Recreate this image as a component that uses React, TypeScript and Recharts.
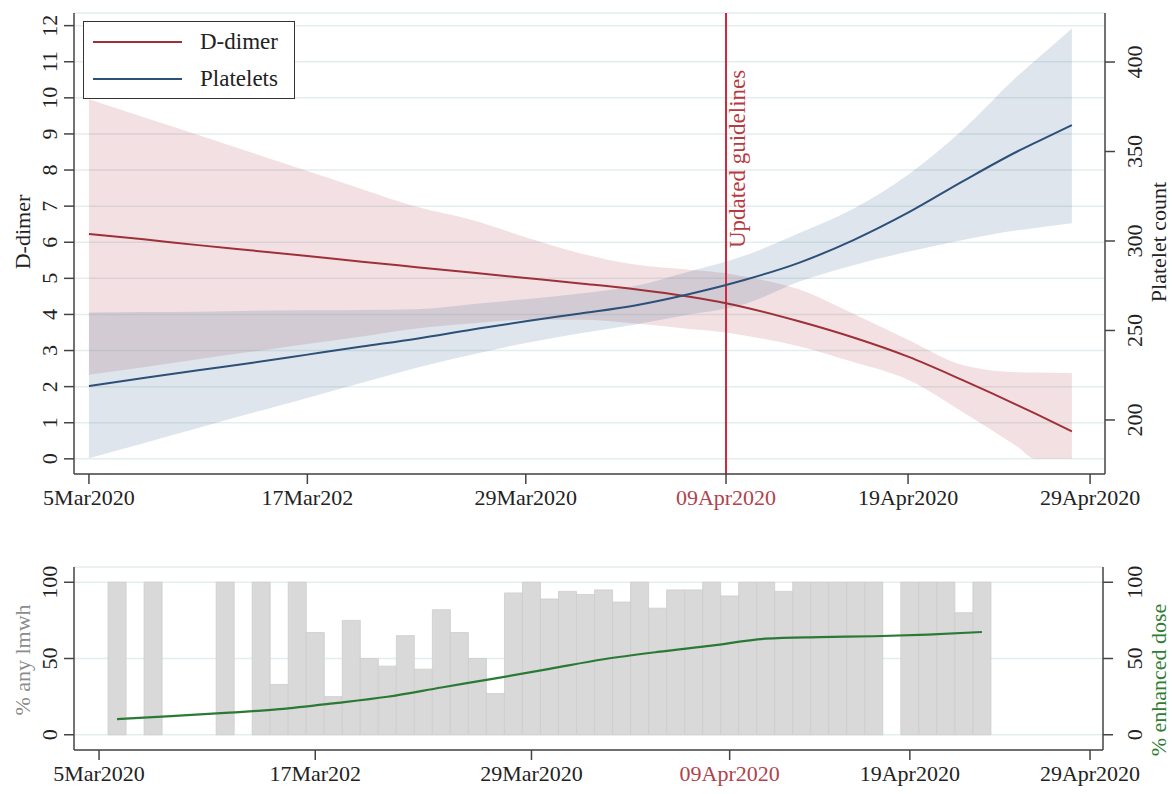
import React from 'react';
import { ComposedChart, Line, Area, Bar, XAxis, YAxis, CartesianGrid, ReferenceLine, Legend } from 'recharts';

const SERIF = '"Liberation Serif", "DejaVu Serif", serif';

// x is days since 5 March 2020
const dateTicks = [0, 12, 24, 35, 45, 55];
const dateLabels = ['5Mar2020', '17Mar202', '29Mar2020', '09Apr2020', '19Apr2020', '29Apr2020'];
const guidelineDay = 35;

// upper panel: fitted D-dimer / platelet trends with 95% bands
const fitDays = [0, 3, 6, 9, 12, 15, 18, 21, 24, 27, 30, 33, 35, 36, 39, 42, 45, 48, 51, 52, 54];
const dDimer = [6.23, 6.08, 5.92, 5.77, 5.62, 5.46, 5.31, 5.16, 5.01, 4.86, 4.7, 4.49, 4.31, 4.2, 3.81, 3.36, 2.83, 2.18, 1.49, 1.25, 0.76];
const dDimerLo = [2.33, 2.54, 2.76, 2.97, 3.18, 3.39, 3.61, 3.75, 3.85, 3.85, 3.75, 3.6, 3.5, 3.42, 3.12, 2.68, 2.19, 1.3, 0.34, 0, 0];
const dDimerHi = [9.96, 9.46, 8.97, 8.47, 7.97, 7.47, 6.98, 6.62, 6.14, 5.69, 5.38, 5.24, 5.14, 5.05, 4.7, 4.02, 3.3, 2.6, 2.4, 2.39, 2.37];
const platelets = [219, 223.4, 227.8, 232, 236.5, 241, 245.4, 250.4, 255.2, 259.5, 264, 270.4, 275.4, 278.2, 287.8, 300.5, 315.8, 333.3, 350, 355, 364.8];
const plateletsLo = [178.6, 187, 195.5, 204, 212.3, 220.8, 229.2, 236.5, 243, 248.4, 253.4, 258.9, 262.3, 264.7, 277.2, 286.5, 294, 300.6, 306, 307.3, 309.9];
const plateletsHi = [260, 260.3, 260.5, 261, 261.3, 261.5, 261.9, 264.7, 267.5, 270.6, 274.8, 283, 288.5, 291.8, 304.3, 318, 337, 362, 392, 401, 418.8];

const dDimerTicks = [0, 1, 2, 3, 4, 5, 6, 7, 8, 9, 10, 11, 12];
const plateletTicks = [200, 250, 300, 350, 400];

const legendNames = ['D-dimer', 'Platelets'];
const legendColors = ['#9e3039', '#2c5078'];

// lower panel: daily % on any LMWH (bars) and % on enhanced dose (line)
const lmwhDays = [1, 3, 7, 9, 10, 11, 12, 13, 14, 15, 16, 17, 18, 19, 20, 21, 22, 23, 24, 25, 26, 27, 28, 29, 30, 31, 32, 33, 34, 35, 36, 37, 38, 39, 40, 41, 42, 43, 45, 46, 47, 48, 49];
const lmwhPct = [100, 100, 100, 100, 33, 100, 67, 25, 75, 50, 45, 65, 43, 82, 67, 50, 27, 93, 100, 89, 94, 92, 95, 87, 100, 83, 95, 95, 100, 91, 100, 100, 94, 100, 100, 100, 100, 100, 100, 100, 100, 80, 100];
const enhancedDays = [1, 4, 7, 10, 13, 16, 19, 22, 25, 28, 31, 34, 37, 40, 43, 46, 49];
const enhancedPct = [10.2, 12.2, 14.3, 16.8, 20.6, 24.9, 31, 37, 43.2, 49.5, 54.3, 58.4, 63, 64, 64.6, 65.7, 67.4];
const pctTicks = [0, 50, 100];

const topRows = fitDays.map((day, i) => ({
  day,
  dDimer: dDimer[i],
  dDimerBand: [dDimerLo[i], dDimerHi[i]],
  platelets: platelets[i],
  plateletsBand: [plateletsLo[i], plateletsHi[i]],
}));

const bottomDays = Array.from(new Set([...lmwhDays, ...enhancedDays])).sort((a, b) => a - b);
const bottomRows = bottomDays.map((day) => {
  const b = lmwhDays.indexOf(day);
  const e = enhancedDays.indexOf(day);
  return { day, lmwh: b >= 0 ? lmwhPct[b] : null, enhanced: e >= 0 ? enhancedPct[e] : null };
});

const axisStyle = { stroke: '#444', strokeWidth: 1.5 };

const DateTick = (props: any) => {
  const { x, y, payload } = props;
  const label = dateLabels[dateTicks.indexOf(payload.value)] ?? '';
  return (
    <text x={x} y={y + 19} textAnchor="middle" fontFamily={SERIF} fontSize={22}
      fill={payload.value === guidelineDay ? '#b0434b' : '#222'}>
      {label}
    </text>
  );
};

// Stata-style vertical tick labels
const vTick = (dx: number) => (props: any) => {
  const { x, y, payload } = props;
  const bx = x + dx;
  return (
    <text x={bx} y={y} transform={`rotate(-90 ${bx} ${y})`} textAnchor="middle"
      fontFamily={SERIF} fontSize={22} fill="#222">
      {payload.value}
    </text>
  );
};

const GuidelineLabel = (props: any) => {
  const vb = props.viewBox ?? {};
  const x = (vb.x ?? 0) + 19;
  const y = (vb.y ?? 0) + 235;
  return (
    <text x={x} y={y} transform={`rotate(-90 ${x} ${y})`} textAnchor="start"
      fontFamily={SERIF} fontSize={23} fill="#b83a40">
      Updated guidelines
    </text>
  );
};

const LegendBox = () => (
  <div style={{ position: 'relative', width: 212, height: 78, border: '1.5px solid #333', background: '#fff', boxSizing: 'border-box', fontFamily: SERIF, fontSize: 23, color: '#222' }}>
    {legendNames.map((name, i) => (
      <React.Fragment key={name}>
        <div style={{ position: 'absolute', left: 9, top: 19 + i * 37, width: 89, height: 2, background: legendColors[i] }} />
        <div style={{ position: 'absolute', left: 116, top: 7 + i * 37, height: 26, lineHeight: '26px' }}>{name}</div>
      </React.Fragment>
    ))}
  </div>
);

export default function App() {
  return (
    <div style={{ position: 'absolute', left: 0, top: 0, width: 1172, height: 794, background: '#fff', fontFamily: SERIF }}>
      <div style={{ position: 'absolute', left: 0, top: 0 }}>
        <ComposedChart width={1172} height={530} data={topRows} margin={{ top: 13, right: 7, bottom: 16, left: 14 }}>
          <CartesianGrid yAxisId="left" vertical={false} stroke="#e4edef" strokeWidth={1.5} />
          <XAxis dataKey="day" type="number" domain={[-0.82, 55.82]} ticks={dateTicks} allowDataOverflow
            height={40} tickSize={10} tickMargin={2} axisLine={axisStyle} tickLine={axisStyle} tick={DateTick} />
          <YAxis yAxisId="left" domain={[-0.42, 12.35]} ticks={dDimerTicks} allowDataOverflow width={60}
            tickSize={10} tickMargin={2} axisLine={axisStyle} tickLine={axisStyle} tick={vTick(-5)} />
          <YAxis yAxisId="right" orientation="right" domain={[169.8, 427.4]} ticks={plateletTicks} allowDataOverflow width={60}
            tickSize={10} tickMargin={2} axisLine={axisStyle} tickLine={axisStyle} tick={vTick(25)} />
          <Area yAxisId="left" type="monotone" dataKey="dDimerBand" stroke="none" fill="#b5545c" fillOpacity={0.18}
            dot={false} activeDot={false} isAnimationActive={false} />
          <Area yAxisId="right" type="monotone" dataKey="plateletsBand" stroke="none" fill="#4a6f96" fillOpacity={0.18}
            dot={false} activeDot={false} isAnimationActive={false} />
          <ReferenceLine yAxisId="left" x={guidelineDay} stroke="#d0283c" strokeWidth={2} label={GuidelineLabel} />
          <Line yAxisId="left" type="monotone" dataKey="dDimer" name="D-dimer" stroke={legendColors[0]} strokeWidth={2}
            dot={false} activeDot={false} isAnimationActive={false} />
          <Line yAxisId="right" type="monotone" dataKey="platelets" name="Platelets" stroke={legendColors[1]} strokeWidth={2}
            dot={false} activeDot={false} isAnimationActive={false} />
          <Legend layout="horizontal" verticalAlign="middle" align="center" content={<LegendBox />}
            wrapperStyle={{ left: 83, top: 21, width: 212, height: 78 }} />
        </ComposedChart>
      </div>

      <div style={{ position: 'absolute', left: 0, top: 530 }}>
        <ComposedChart width={1172} height={264} data={bottomRows} margin={{ top: 37, right: 9, bottom: 4, left: 14 }}>
          <CartesianGrid yAxisId="left" vertical={false} stroke="#e4edef" strokeWidth={1.5} />
          <XAxis dataKey="day" type="number" domain={[-1.39, 55.72]} ticks={dateTicks} allowDataOverflow
            height={40} tickSize={10} tickMargin={2} axisLine={axisStyle} tickLine={axisStyle} tick={DateTick} />
          <YAxis yAxisId="left" domain={[-10, 110]} ticks={pctTicks} allowDataOverflow width={60}
            tickSize={10} tickMargin={2} axisLine={axisStyle} tickLine={axisStyle} tick={vTick(-5)} />
          <YAxis yAxisId="right" orientation="right" domain={[-10, 110]} ticks={pctTicks} allowDataOverflow width={60}
            tickSize={10} tickMargin={2} axisLine={axisStyle} tickLine={axisStyle} tick={vTick(27)} />
          <Bar yAxisId="left" dataKey="lmwh" barSize={18} fill="#d9d9d9" stroke="#cdcdcd" strokeWidth={0.8}
            isAnimationActive={false} />
          <Line yAxisId="right" type="monotone" dataKey="enhanced" stroke="#2a7a36" strokeWidth={2.2} connectNulls
            dot={false} activeDot={false} isAnimationActive={false} />
        </ComposedChart>
      </div>

      <svg width={1172} height={794} style={{ position: 'absolute', left: 0, top: 0, pointerEvents: 'none' }}>
        <text x={30} y={232} transform="rotate(-90 30 232)" textAnchor="middle" fontFamily={SERIF} fontSize={22} fill="#222">D-dimer</text>
        <text x={1166} y={242} transform="rotate(-90 1166 242)" textAnchor="middle" fontFamily={SERIF} fontSize={22} fill="#222">Platelet count</text>
        <text x={30} y={660} transform="rotate(-90 30 660)" textAnchor="middle" fontFamily={SERIF} fontSize={22} fill="#8c8c8c">% any lmwh</text>
        <text x={1166} y={680} transform="rotate(-90 1166 680)" textAnchor="middle" fontFamily={SERIF} fontSize={22} fill="#2e7d32">% enhanced dose</text>
      </svg>
    </div>
  );
}
